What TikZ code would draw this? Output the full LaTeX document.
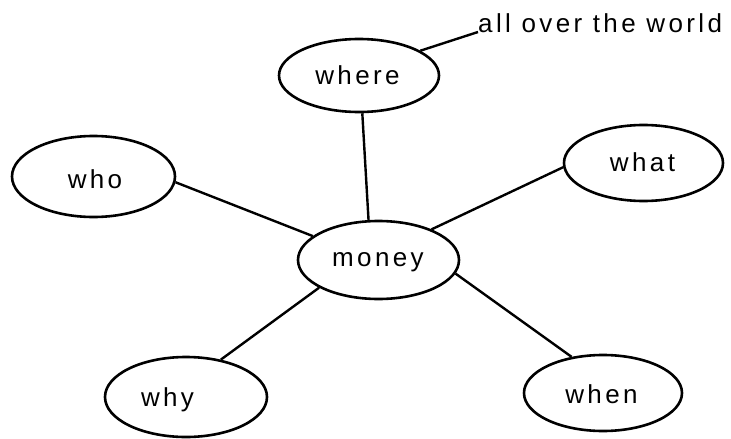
\documentclass[tikz,border=0pt]{standalone}
\usepackage{fontspec}
\newfontfamily\handfont[LetterSpace=13]{Liberation Sans}
\usetikzlibrary{shapes.geometric}
\tikzset{
  bubble/.style={draw, ellipse, line width=2.6pt, inner sep=0pt},
  word/.style={font=\handfont\fontsize{26}{30}\selectfont, inner sep=0pt, anchor=base},
  link/.style={line width=2.4pt},
}
\begin{document}
\begin{tikzpicture}[x=1pt, y=-1pt]
\useasboundingbox (0,0) rectangle (731,439);
% bubbles
\node[bubble, minimum width=160pt, minimum height=73pt] (where) at (359,75.5) {};
\node[bubble, minimum width=163pt, minimum height=81pt] (who) at (93.5,176.5) {};
\node[bubble, minimum width=159pt, minimum height=76pt] (what) at (643.5,163) {};
\node[bubble, minimum width=161pt, minimum height=78pt] (money) at (378.5,260) {};
\node[bubble, minimum width=162pt, minimum height=80pt] (why) at (186,397) {};
\node[bubble, minimum width=158pt, minimum height=76pt] (when) at (603,393) {};
% words
\node[word] (twhere) at (357.5,84) {where};
\node[word] (twho) at (95,188) {who};
\node[word] (twhat) at (642.5,171) {what};
\node[word] (tmoney) at (378,266) {money};
\node[word] (twhy) at (167.5,406) {why};
\node[word] (twhen) at (601.5,403) {when};
\node[word, anchor=base west] (aotw) at (478,32) {all over the world};
% links
\draw[link] (where.22) -- (aotw.base west);
\draw[link] (where.-85) -- (money.104);
\draw[link] (who.-4) -- (money.160);
\draw[link] (what.183) -- (money.30);
\draw[link] (why.47) -- (money.205);
\draw[link] (when.131) -- (money.-10);
\end{tikzpicture}
\end{document}
